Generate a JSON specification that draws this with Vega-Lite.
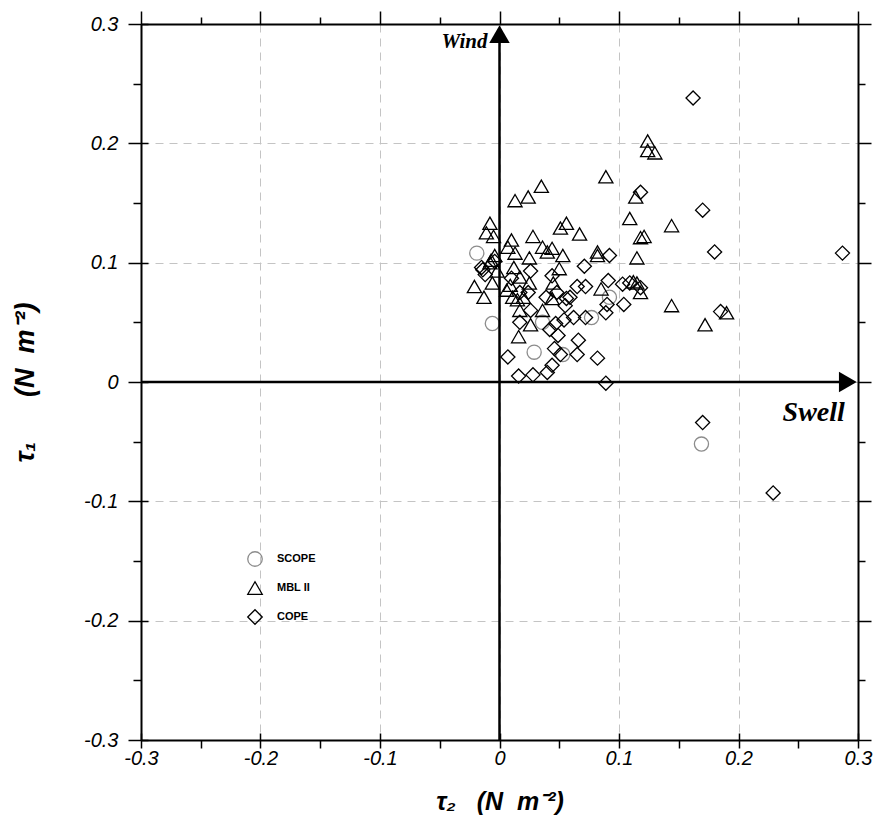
{
  "$schema": "https://vega.github.io/schema/vega-lite/v6.json",
  "width": 717,
  "height": 716,
  "autosize": {"type": "none"},
  "padding": {"left": 141, "top": 24, "right": 18, "bottom": 90},
  "background": "white",
  "config": {
    "view": {"stroke": null},
    "axis": {"tickColor": "black", "tickWidth": 1.5, "domain": false, "grid": false, "labels": false, "title": null},
    "legend": {"labelFont": "Liberation Sans", "labelFontWeight": "bold", "labelFontSize": 11, "labelColor": "black", "symbolSize": 210, "symbolStrokeWidth": 1.3, "rowPadding": 10, "labelOffset": 14}
  },
  "resolve": {"axis": {"x": "independent", "y": "independent"}},
  "datasets": {
    "pts": [
      {"series": "SCOPE", "tau2": -0.019, "tau1": 0.108},
      {"series": "SCOPE", "tau2": -0.006, "tau1": 0.049},
      {"series": "SCOPE", "tau2": 0.029, "tau1": 0.025},
      {"series": "SCOPE", "tau2": 0.036, "tau1": 0.050},
      {"series": "SCOPE", "tau2": 0.053, "tau1": 0.023},
      {"series": "SCOPE", "tau2": 0.077, "tau1": 0.054},
      {"series": "SCOPE", "tau2": 0.092, "tau1": 0.071},
      {"series": "SCOPE", "tau2": 0.169, "tau1": -0.052},
      {"series": "MBL II", "tau2": 0.124, "tau1": 0.202},
      {"series": "MBL II", "tau2": 0.124, "tau1": 0.194},
      {"series": "MBL II", "tau2": 0.130, "tau1": 0.192},
      {"series": "MBL II", "tau2": 0.089, "tau1": 0.172},
      {"series": "MBL II", "tau2": 0.035, "tau1": 0.164},
      {"series": "MBL II", "tau2": 0.024, "tau1": 0.155},
      {"series": "MBL II", "tau2": 0.013, "tau1": 0.152},
      {"series": "MBL II", "tau2": 0.114, "tau1": 0.155},
      {"series": "MBL II", "tau2": 0.109, "tau1": 0.137},
      {"series": "MBL II", "tau2": 0.144, "tau1": 0.131},
      {"series": "MBL II", "tau2": -0.008, "tau1": 0.133},
      {"series": "MBL II", "tau2": -0.011, "tau1": 0.125},
      {"series": "MBL II", "tau2": -0.005, "tau1": 0.122},
      {"series": "MBL II", "tau2": 0.010, "tau1": 0.119},
      {"series": "MBL II", "tau2": 0.028, "tau1": 0.122},
      {"series": "MBL II", "tau2": 0.051, "tau1": 0.129},
      {"series": "MBL II", "tau2": 0.056, "tau1": 0.133},
      {"series": "MBL II", "tau2": 0.067, "tau1": 0.124},
      {"series": "MBL II", "tau2": 0.036, "tau1": 0.113},
      {"series": "MBL II", "tau2": 0.040, "tau1": 0.109},
      {"series": "MBL II", "tau2": 0.044, "tau1": 0.112},
      {"series": "MBL II", "tau2": 0.053, "tau1": 0.106},
      {"series": "MBL II", "tau2": 0.025, "tau1": 0.104},
      {"series": "MBL II", "tau2": 0.013, "tau1": 0.108},
      {"series": "MBL II", "tau2": 0.007, "tau1": 0.113},
      {"series": "MBL II", "tau2": 0.082, "tau1": 0.109},
      {"series": "MBL II", "tau2": 0.115, "tau1": 0.104},
      {"series": "MBL II", "tau2": 0.118, "tau1": 0.121},
      {"series": "MBL II", "tau2": 0.121, "tau1": 0.122},
      {"series": "MBL II", "tau2": -0.007, "tau1": 0.102},
      {"series": "MBL II", "tau2": -0.004, "tau1": 0.106},
      {"series": "MBL II", "tau2": 0.144, "tau1": 0.064},
      {"series": "MBL II", "tau2": 0.172, "tau1": 0.048},
      {"series": "MBL II", "tau2": 0.190, "tau1": 0.058},
      {"series": "MBL II", "tau2": 0.118, "tau1": 0.075},
      {"series": "MBL II", "tau2": 0.082, "tau1": 0.106},
      {"series": "MBL II", "tau2": -0.008, "tau1": 0.100},
      {"series": "MBL II", "tau2": -0.002, "tau1": 0.093},
      {"series": "MBL II", "tau2": -0.021, "tau1": 0.080},
      {"series": "MBL II", "tau2": -0.013, "tau1": 0.071},
      {"series": "MBL II", "tau2": -0.006, "tau1": 0.083},
      {"series": "MBL II", "tau2": 0.009, "tau1": 0.081},
      {"series": "MBL II", "tau2": 0.011, "tau1": 0.071},
      {"series": "MBL II", "tau2": 0.015, "tau1": 0.069},
      {"series": "MBL II", "tau2": 0.025, "tau1": 0.083},
      {"series": "MBL II", "tau2": 0.017, "tau1": 0.060},
      {"series": "MBL II", "tau2": 0.036, "tau1": 0.060},
      {"series": "MBL II", "tau2": 0.026, "tau1": 0.048},
      {"series": "MBL II", "tau2": 0.016, "tau1": 0.038},
      {"series": "MBL II", "tau2": 0.045, "tau1": 0.083},
      {"series": "MBL II", "tau2": 0.050, "tau1": 0.095},
      {"series": "MBL II", "tau2": 0.044, "tau1": 0.070},
      {"series": "MBL II", "tau2": 0.085, "tau1": 0.078},
      {"series": "MBL II", "tau2": 0.112, "tau1": 0.084},
      {"series": "MBL II", "tau2": 0.115, "tau1": 0.083},
      {"series": "MBL II", "tau2": 0.006, "tau1": 0.077},
      {"series": "MBL II", "tau2": 0.020, "tau1": 0.071},
      {"series": "MBL II", "tau2": 0.012, "tau1": 0.096},
      {"series": "MBL II", "tau2": 0.017, "tau1": 0.088},
      {"series": "COPE", "tau2": 0.162, "tau1": 0.238},
      {"series": "COPE", "tau2": 0.118, "tau1": 0.159},
      {"series": "COPE", "tau2": 0.170, "tau1": 0.144},
      {"series": "COPE", "tau2": 0.180, "tau1": 0.109},
      {"series": "COPE", "tau2": 0.287, "tau1": 0.108},
      {"series": "COPE", "tau2": 0.185, "tau1": 0.059},
      {"series": "COPE", "tau2": 0.170, "tau1": -0.034},
      {"series": "COPE", "tau2": 0.229, "tau1": -0.093},
      {"series": "COPE", "tau2": 0.092, "tau1": 0.106},
      {"series": "COPE", "tau2": 0.071, "tau1": 0.097},
      {"series": "COPE", "tau2": 0.026, "tau1": 0.093},
      {"series": "COPE", "tau2": 0.044, "tau1": 0.089},
      {"series": "COPE", "tau2": 0.065, "tau1": 0.080},
      {"series": "COPE", "tau2": 0.072, "tau1": 0.080},
      {"series": "COPE", "tau2": 0.091, "tau1": 0.085},
      {"series": "COPE", "tau2": 0.103, "tau1": 0.082},
      {"series": "COPE", "tau2": 0.109, "tau1": 0.083},
      {"series": "COPE", "tau2": -0.015, "tau1": 0.096},
      {"series": "COPE", "tau2": -0.012, "tau1": 0.090},
      {"series": "COPE", "tau2": 0.010, "tau1": 0.087},
      {"series": "COPE", "tau2": 0.017, "tau1": 0.075},
      {"series": "COPE", "tau2": 0.024, "tau1": 0.075},
      {"series": "COPE", "tau2": 0.039, "tau1": 0.071},
      {"series": "COPE", "tau2": 0.048, "tau1": 0.075},
      {"series": "COPE", "tau2": 0.056, "tau1": 0.070},
      {"series": "COPE", "tau2": 0.059, "tau1": 0.071},
      {"series": "COPE", "tau2": 0.055, "tau1": 0.064},
      {"series": "COPE", "tau2": 0.090, "tau1": 0.065},
      {"series": "COPE", "tau2": 0.089, "tau1": 0.058},
      {"series": "COPE", "tau2": 0.104, "tau1": 0.065},
      {"series": "COPE", "tau2": 0.026, "tau1": 0.060},
      {"series": "COPE", "tau2": 0.017, "tau1": 0.050},
      {"series": "COPE", "tau2": 0.062, "tau1": 0.054},
      {"series": "COPE", "tau2": 0.054, "tau1": 0.052},
      {"series": "COPE", "tau2": 0.072, "tau1": 0.054},
      {"series": "COPE", "tau2": 0.047, "tau1": 0.049},
      {"series": "COPE", "tau2": 0.042, "tau1": 0.044},
      {"series": "COPE", "tau2": 0.049, "tau1": 0.039},
      {"series": "COPE", "tau2": 0.066, "tau1": 0.035},
      {"series": "COPE", "tau2": 0.046, "tau1": 0.028},
      {"series": "COPE", "tau2": 0.051, "tau1": 0.023},
      {"series": "COPE", "tau2": 0.065, "tau1": 0.023},
      {"series": "COPE", "tau2": 0.082, "tau1": 0.020},
      {"series": "COPE", "tau2": 0.007, "tau1": 0.021},
      {"series": "COPE", "tau2": 0.044, "tau1": 0.014},
      {"series": "COPE", "tau2": 0.040, "tau1": 0.008},
      {"series": "COPE", "tau2": 0.028, "tau1": 0.006},
      {"series": "COPE", "tau2": 0.016, "tau1": 0.005},
      {"series": "COPE", "tau2": 0.089, "tau1": -0.001},
      {"series": "COPE", "tau2": -0.014, "tau1": 0.094},
      {"series": "COPE", "tau2": -0.004, "tau1": 0.101},
      {"series": "COPE", "tau2": 0.118, "tau1": 0.079}
    ]
  },
  "layer": [
    {
      "data": {"name": "pts"},
      "mark": {"type": "point", "filled": false, "size": 200, "strokeWidth": 1.3, "opacity": 1},
      "encoding": {
        "x": {
          "field": "tau2", "type": "quantitative",
          "scale": {"domain": [-0.3, 0.3], "nice": false, "zero": false},
          "axis": {
            "orient": "bottom", "values": [-0.3, -0.2, -0.1, 0, 0.1, 0.2, 0.3],
            "labels": true,
            "labelExpr": "replace(format(datum.value, '.1~f'), '\u2212', '-')",
            "labelFont": "Liberation Sans", "labelFontStyle": "italic", "labelFontSize": 20, "labelColor": "black",
            "labelPadding": 0, "labelFlush": false, "tickSize": 8,
            "domain": true, "domainColor": "black", "domainWidth": 2,
            "grid": true, "gridColor": "#c4c4c4", "gridDash": [8, 6], "gridWidth": 1,
            "title": "τ₂\u00a0\u00a0\u00a0(N\u00a0\u00a0m⁻²)", "titleFont": "Liberation Sans", "titleFontStyle": "italic", "titleFontWeight": "bold",
            "titleFontSize": 25, "titleColor": "black", "titlePadding": 21
          }
        },
        "y": {
          "field": "tau1", "type": "quantitative",
          "scale": {"domain": [-0.3, 0.3], "nice": false, "zero": false},
          "axis": {
            "orient": "left", "values": [-0.3, -0.2, -0.1, 0, 0.1, 0.2, 0.3],
            "labels": true,
            "labelExpr": "replace(format(datum.value, '.1~f'), '\u2212', '-')",
            "labelFont": "Liberation Sans", "labelFontStyle": "italic", "labelFontSize": 20, "labelColor": "black",
            "labelPadding": 10, "labelFlush": false, "tickSize": 13,
            "domain": true, "domainColor": "black", "domainWidth": 2,
            "grid": true, "gridColor": "#c4c4c4", "gridDash": [8, 6], "gridWidth": 1,
            "title": "τ₁\u00a0\u00a0\u00a0\u00a0\u00a0\u00a0(N\u00a0\u00a0m⁻²)", "titleFont": "Liberation Sans", "titleFontStyle": "italic", "titleFontWeight": "bold",
            "titleFontSize": 27, "titleColor": "black", "titlePadding": 44
          }
        },
        "shape": {
          "field": "series", "type": "nominal",
          "scale": {"domain": ["SCOPE", "MBL II", "COPE"], "range": ["circle", "triangle-up", "diamond"]},
          "legend": {"orient": "none", "legendX": 106, "legendY": 527, "title": null}
        },
        "color": {
          "field": "series", "type": "nominal",
          "scale": {"domain": ["SCOPE", "MBL II", "COPE"], "range": ["#8c8c8c", "#000000", "#000000"]},
          "legend": {"orient": "none", "legendX": 106, "legendY": 527, "title": null}
        }
      }
    },
    {
      "data": {"values": [{}]},
      "mark": {"type": "rule", "color": "black", "strokeWidth": 2.5},
      "encoding": {
        "x": {"datum": -0.3, "type": "quantitative",
          "axis": {"orient": "bottom", "values": [-0.3, -0.2, -0.1, 0, 0.1, 0.2, 0.3], "tickSize": -7}},
        "x2": {"datum": 0.29},
        "y": {"datum": 0, "type": "quantitative",
          "axis": {"orient": "left", "values": [-0.3, -0.2, -0.1, 0, 0.1, 0.2, 0.3], "tickSize": -7}}
      }
    },
    {
      "data": {"values": [{}]},
      "mark": {"type": "rule", "color": "black", "strokeWidth": 2.5},
      "encoding": {
        "x": {"datum": 0, "type": "quantitative",
          "axis": {"orient": "bottom", "values": [-0.25, -0.15, -0.05, 0.05, 0.15, 0.25], "tickSize": 8}},
        "y": {"datum": -0.3, "type": "quantitative",
          "axis": {"orient": "left", "values": [-0.25, -0.15, -0.05, 0.05, 0.15, 0.25], "tickSize": 8}},
        "y2": {"datum": 0.29}
      }
    },
    {
      "data": {"values": [{}]},
      "mark": {"type": "point", "shape": "triangle-right", "filled": true, "color": "black", "size": 420, "opacity": 1},
      "encoding": {
        "x": {"datum": 0.2915, "type": "quantitative",
          "axis": {"orient": "top", "values": [-0.3, -0.2, -0.1, 0, 0.1, 0.2, 0.3], "tickSize": 13, "domain": true, "domainColor": "black", "domainWidth": 2}},
        "y": {"datum": 0, "type": "quantitative",
          "axis": {"orient": "right", "values": [-0.3, -0.2, -0.1, 0, 0.1, 0.2, 0.3], "tickSize": 13, "domain": true, "domainColor": "black", "domainWidth": 2}}
      }
    },
    {
      "data": {"values": [{}]},
      "mark": {"type": "point", "shape": "triangle-up", "filled": true, "color": "black", "size": 420, "opacity": 1},
      "encoding": {
        "x": {"datum": 0, "type": "quantitative",
          "axis": {"orient": "top", "values": [-0.25, -0.15, -0.05, 0.05, 0.15, 0.25], "tickSize": 7}},
        "y": {"datum": 0.2915, "type": "quantitative",
          "axis": {"orient": "right", "values": [-0.25, -0.15, -0.05, 0.05, 0.15, 0.25], "tickSize": 7}}
      }
    },
    {
      "data": {"values": [{"label": "Wind", "tau2": 0, "tau1": 0.285}]},
      "mark": {"type": "text", "align": "right", "baseline": "middle", "dx": -12, "font": "Liberation Serif", "fontStyle": "italic", "fontWeight": "bold", "fontSize": 21, "color": "black"},
      "encoding": {
        "x": {"field": "tau2", "type": "quantitative", "axis": null},
        "y": {"field": "tau1", "type": "quantitative", "axis": null},
        "text": {"field": "label"}
      }
    },
    {
      "data": {"values": [{"label": "Swell", "tau2": 0.289, "tau1": -0.026}]},
      "mark": {"type": "text", "align": "right", "baseline": "middle", "font": "Liberation Serif", "fontStyle": "italic", "fontWeight": "bold", "fontSize": 28, "color": "black"},
      "encoding": {
        "x": {"field": "tau2", "type": "quantitative", "axis": null},
        "y": {"field": "tau1", "type": "quantitative", "axis": null},
        "text": {"field": "label"}
      }
    }
  ]
}
